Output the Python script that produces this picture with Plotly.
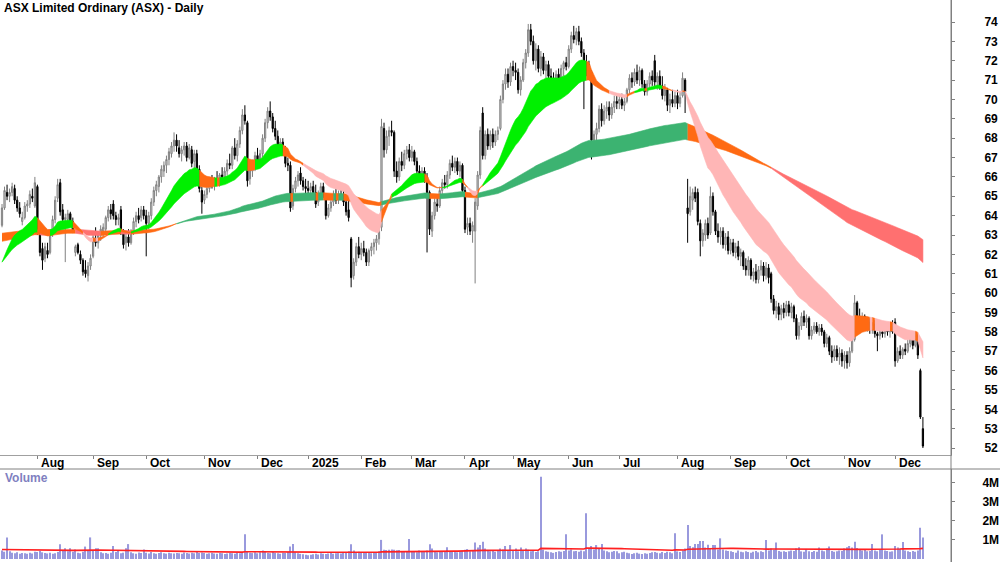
import numpy as np
import pandas as pd
import plotly.graph_objects as go

# ---------------- data ----------------
start_date = "2024-07-12"
asx_holidays = ["2024-12-25", "2024-12-26", "2025-01-01", "2025-01-27",
                "2025-04-18", "2025-04-21", "2025-04-25", "2025-06-09"]

open_ = [
    63.5,64.4,65.2,65.0,65.2,65.4,64.8,64.4,63.7,63.9,64.5,64.6,65.0,64.5,
    65.5,63.0,62.3,61.8,62.2,62.1,63.1,63.8,64.9,65.7,64.3,63.8,63.8,64.1,63.7,62.1,62.5,62.0,61.7,61.2,60.9,61.4,
    61.9,62.8,62.6,63.0,63.2,63.3,63.9,64.3,64.6,64.0,63.8,64.3,63.1,62.6,62.9,62.6,63.2,63.7,64.0,63.9,64.3,
    64.0,63.6,64.0,64.7,65.3,65.5,66.0,66.3,66.6,66.9,67.2,67.6,67.9,67.5,67.2,67.4,67.6,67.0,67.4,66.8,67.2,66.4,65.3,
    64.8,65.1,65.4,65.8,65.6,65.9,65.8,66.1,66.0,66.3,66.7,66.6,67.5,67.1,67.7,68.4,69.2,68.8,65.9,66.3,66.6,
    67.1,66.8,67.2,68.0,68.8,69.4,69.1,68.5,68.1,67.6,67.8,67.3,66.7,66.6,64.5,65.4,65.8,66.2,65.8,65.5,
    65.4,65.3,65.5,65.2,64.7,65.1,65.5,65.0,64.0,64.4,64.7,65.1,64.8,65.1,65.0,64.7,64.3,62.8,60.9,61.6,62.4,
    62.0,62.3,62.1,61.6,62.2,62.4,62.6,62.8,63.4,68.5,67.4,68.1,68.4,68.3,66.3,66.0,66.8,66.6,67.2,67.4,
    67.0,67.3,66.8,66.3,66.1,66.3,66.0,65.2,63.2,64.0,64.6,64.5,65.3,65.7,65.6,66.1,66.7,66.5,66.8,66.3,66.6,
    65.3,63.4,63.6,63.2,63.2,64.5,66.1,69.3,67.1,68.2,67.6,68.2,67.8,68.2,68.5,70.0,70.8,71.3,70.9,
    71.7,71.5,71.4,70.5,71.0,71.9,72.4,73.6,73.0,72.0,72.6,71.6,72.2,71.5,71.8,71.2,71.1,70.9,71.3,71.0,71.6,71.9,
    71.7,72.6,73.3,73.1,73.5,73.0,72.4,71.9,71.8,71.4,67.9,68.2,68.5,69.5,68.9,69.4,69.6,69.2,69.6,69.9,
    69.8,70.0,69.7,69.9,70.5,71.1,70.9,71.4,71.0,71.5,70.8,70.4,70.8,71.2,72.0,70.9,71.2,70.7,70.2,70.5,69.7,70.0,69.8,
    70.2,69.8,70.2,71.0,64.4,64.2,64.8,65.2,65.2,63.6,62.7,63.0,63.6,63.1,65.0,64.2,63.2,62.9,63.2,62.5,62.9,
    62.2,62.6,62.1,62.4,61.9,62.1,61.4,61.2,61.7,60.9,61.1,60.7,61.2,61.4,60.9,61.3,61.0,59.7,59.1,59.3,58.9,59.2,
    59.0,59.4,59.0,59.3,58.7,57.8,58.3,58.8,58.5,58.7,57.8,58.1,58.3,58.0,58.2,58.0,57.4,57.7,57.0,56.7,57.1,56.7,56.9,
    56.5,56.8,56.4,57.0,57.6,59.5,58.8,58.6,58.8,58.3,58.5,58.1,58.4,57.9,57.8,58.0,57.9,58.1,58.0,58.2,
    58.5,56.5,57.0,56.8,57.1,57.0,57.4,57.7,57.3,57.8,56.0,53.0,
]
high = [
    64.6,65.5,65.6,65.4,65.7,65.6,65.0,64.7,64.2,64.7,64.8,65.3,65.4,66.0,
    65.6,63.1,62.6,62.6,62.6,63.3,64.0,65.0,65.9,65.9,64.6,64.1,64.3,64.2,63.9,62.5,62.6,62.2,61.8,61.7,61.6,62.0,
    63.0,63.4,63.2,63.5,63.6,64.0,64.5,64.6,64.8,64.2,64.1,64.5,63.3,63.2,63.3,63.3,63.9,64.2,64.4,64.5,64.5,
    64.3,64.2,64.9,65.5,65.8,66.1,66.6,66.8,67.1,67.5,67.8,68.3,68.2,67.9,67.6,67.8,67.8,67.7,67.6,67.4,67.4,66.6,65.5,
    65.3,65.6,66.0,66.1,66.0,66.3,66.2,66.5,66.5,66.9,67.2,67.6,68.0,67.9,68.6,69.5,69.7,68.9,66.6,66.9,67.3,
    67.5,67.4,68.2,69.0,69.6,69.9,69.3,68.9,68.4,68.0,68.0,67.6,67.0,66.8,65.6,66.0,66.3,66.5,66.0,65.9,
    65.8,65.7,65.8,65.6,65.3,65.7,65.7,65.1,64.6,64.9,65.3,65.4,65.3,65.5,65.3,64.9,64.8,62.9,61.8,62.6,62.9,
    62.6,62.7,62.3,62.3,62.6,62.8,63.0,63.4,69.0,68.8,68.4,68.6,68.9,68.4,66.8,67.0,67.3,67.4,67.6,67.7,
    67.6,67.4,67.0,66.6,66.5,66.5,66.2,65.3,64.2,64.9,65.0,65.5,65.9,66.1,66.3,66.9,67.1,67.0,67.0,66.8,66.7,
    65.5,63.9,63.9,63.7,64.9,66.3,68.6,69.6,68.4,68.5,68.4,68.5,68.4,68.6,70.2,71.0,71.6,71.6,71.9,
    72.0,71.9,71.6,71.2,72.1,72.6,73.9,73.9,73.3,72.9,72.8,72.5,72.4,72.0,72.0,71.6,71.4,71.5,71.6,71.8,72.0,72.2,
    72.8,73.5,73.8,73.7,73.8,73.2,72.6,72.3,72.0,71.5,68.4,68.8,69.7,69.8,69.7,69.9,69.9,69.8,70.2,70.2,
    70.2,70.3,70.1,70.6,71.3,71.4,71.6,71.8,71.7,71.6,71.0,71.0,71.4,71.5,72.3,71.4,71.5,71.2,70.8,70.6,70.3,70.5,70.4,
    70.5,70.4,71.4,71.1,65.9,65.5,65.4,65.5,65.4,63.8,63.3,63.8,63.9,65.5,65.2,64.3,63.6,63.4,63.4,63.1,63.2,
    62.8,62.8,62.6,62.7,62.3,62.2,61.8,61.9,61.8,61.3,61.5,61.4,61.7,61.6,61.6,61.5,61.1,59.9,59.6,59.5,59.4,59.5,
    59.6,59.6,59.5,59.4,58.9,58.5,59.0,59.1,58.9,58.8,58.3,58.5,58.5,58.4,58.4,58.1,57.9,57.8,57.3,57.3,57.3,57.2,57.1,
    57.0,57.0,57.2,57.8,59.9,59.6,59.2,59.0,58.9,58.7,58.7,58.5,58.6,58.0,58.1,58.2,58.2,58.3,58.3,58.6,
    58.7,57.2,57.3,57.2,57.4,57.6,57.9,57.9,58.0,57.9,56.1,53.6,
]
low = [
    63.4,64.3,64.8,64.7,65.0,64.6,64.2,63.9,63.5,63.8,64.2,64.4,64.7,64.4,
    63.0,61.9,61.2,61.6,61.8,62.0,62.9,63.6,64.7,64.0,63.6,61.6,63.5,63.5,63.1,61.9,62.0,61.5,60.9,60.8,60.6,61.2,
    61.8,62.4,62.3,62.7,62.9,63.1,63.7,63.8,63.8,63.5,63.5,63.0,62.3,62.2,62.4,62.5,63.0,63.4,63.6,63.7,63.8,
    61.9,63.3,63.8,64.5,65.0,65.2,65.7,66.0,66.2,66.6,67.0,67.3,67.3,67.0,66.8,67.1,66.8,66.9,66.5,66.2,66.1,65.2,64.1,
    64.6,64.9,65.2,65.4,65.3,65.6,65.5,65.8,65.7,66.1,66.4,66.4,66.9,66.8,67.5,68.2,68.7,65.5,65.6,66.0,66.3,
    66.6,66.5,67.0,67.8,68.5,68.9,68.3,67.9,67.4,67.2,67.1,66.5,66.3,64.2,64.3,65.2,65.5,65.6,65.3,65.1,
    65.0,64.9,65.0,64.4,64.5,64.9,64.9,63.8,63.9,64.2,64.5,64.6,64.6,64.8,64.5,64.0,63.7,60.3,60.7,61.4,61.8,
    61.7,61.9,61.4,61.4,61.9,62.0,62.2,62.5,63.2,67.0,67.2,67.6,68.1,66.0,65.7,65.8,66.3,66.4,66.9,66.8,
    66.8,66.6,66.1,65.8,65.8,65.7,62.1,63.0,62.9,63.8,64.2,64.4,65.0,65.4,65.4,65.9,66.3,66.2,66.1,66.0,65.1,
    63.1,63.0,63.0,62.6,60.5,64.3,65.9,66.9,66.9,67.4,67.4,67.5,67.6,67.9,68.4,69.8,70.5,70.6,70.7,
    71.2,71.0,70.3,70.2,70.9,71.6,72.2,72.8,71.8,71.5,71.4,71.2,71.3,71.1,71.0,70.8,70.6,70.7,70.8,70.9,71.2,71.5,
    71.6,72.4,72.9,72.8,72.8,72.2,69.5,71.2,71.0,66.9,67.2,67.9,68.3,68.6,68.7,69.0,68.9,69.0,69.3,69.5,
    69.5,69.5,69.4,69.8,70.3,70.6,70.7,70.8,70.7,70.6,70.2,70.2,70.6,70.7,70.7,70.5,70.5,70.0,69.9,69.4,69.3,69.6,69.6,
    69.5,69.6,70.1,69.3,62.6,64.0,64.3,64.7,63.5,61.9,62.4,62.7,62.8,63.0,64.0,63.0,62.6,62.5,62.3,62.2,62.0,
    62.0,61.9,61.8,61.7,61.4,61.2,60.9,60.9,60.7,60.6,60.5,60.5,60.9,60.6,60.7,60.5,59.5,58.9,58.7,58.6,58.6,58.7,
    58.8,58.8,58.7,58.5,57.6,57.6,58.1,58.3,58.2,57.6,57.6,57.9,57.9,57.8,57.8,57.2,57.2,56.8,56.4,56.5,56.5,56.3,56.2,
    56.1,56.1,56.2,56.9,57.5,58.5,58.3,58.2,58.1,58.0,57.9,57.9,57.7,57.0,57.6,57.7,57.7,57.8,57.7,57.9,
    56.2,56.4,56.6,56.6,56.8,56.9,57.2,57.1,57.2,56.6,53.5,52.0,
]
close = [
    64.4,65.3,65.0,65.2,65.5,64.8,64.4,64.1,63.9,64.5,64.6,65.1,64.9,65.7,
    63.2,62.1,61.7,62.4,62.0,63.2,63.8,64.8,65.6,64.2,63.8,63.9,64.1,63.7,63.2,62.4,62.1,61.7,61.1,61.0,61.4,61.8,
    62.9,62.6,63.0,63.3,63.4,63.9,64.3,64.1,64.0,63.8,63.9,63.1,62.5,62.9,62.6,63.2,63.7,64.0,63.8,64.3,64.0,
    63.6,64.0,64.7,65.3,65.6,66.0,66.4,66.6,66.9,67.3,67.6,67.9,67.6,67.2,67.4,67.6,67.0,67.5,66.7,67.2,66.3,65.4,64.7,
    65.1,65.4,65.8,65.6,65.9,65.8,66.1,66.0,66.3,66.7,66.6,67.5,67.1,67.7,68.4,69.2,68.9,65.8,66.4,66.6,67.1,
    66.8,67.2,68.0,68.8,69.4,69.1,68.5,68.1,67.6,67.8,67.3,66.7,66.6,64.4,65.4,65.8,66.1,65.8,65.5,65.4,
    65.3,65.5,65.2,64.6,65.1,65.5,65.0,64.0,64.4,64.7,65.1,64.8,65.1,65.0,64.7,64.2,63.9,60.8,61.6,62.4,62.0,
    62.3,62.1,61.6,62.2,62.4,62.6,62.8,63.2,68.6,67.4,68.1,68.4,68.3,66.3,66.0,66.8,66.6,67.2,67.4,67.0,
    67.3,66.8,66.3,66.1,66.3,65.9,65.2,63.3,64.0,64.7,64.5,65.3,65.7,65.6,66.1,66.7,66.5,66.8,66.3,66.6,65.3,
    63.3,63.6,63.2,63.5,64.7,66.1,68.4,67.1,68.2,67.6,68.2,67.8,68.2,68.4,70.0,70.8,71.3,70.9,71.7,
    71.5,71.4,70.5,71.0,71.9,72.4,73.6,73.0,72.0,72.6,71.6,72.2,71.5,71.8,71.2,71.1,70.9,71.3,71.0,71.6,71.9,71.7,
    72.6,73.3,73.1,73.5,73.0,72.4,71.9,71.5,71.4,67.9,68.2,68.5,69.5,68.9,69.4,69.6,69.2,69.6,69.9,69.8,
    70.0,69.7,69.9,70.5,71.1,70.9,71.4,71.0,71.5,70.8,70.4,70.8,71.2,71.0,70.9,71.2,70.7,70.2,70.5,69.7,70.0,69.8,70.2,
    69.8,70.1,71.1,70.4,64.1,65.0,65.2,64.9,63.7,62.7,63.1,63.6,63.0,65.0,64.2,63.2,62.9,63.2,62.5,62.9,62.2,
    62.6,62.1,62.4,61.9,62.1,61.4,61.2,61.7,60.9,61.1,60.7,61.2,61.4,60.9,61.3,60.8,59.7,59.1,59.3,58.9,59.2,59.0,
    59.4,59.0,59.3,58.7,57.8,58.3,58.8,58.5,58.7,57.8,58.1,58.3,58.0,58.2,58.0,57.4,57.7,57.0,56.7,57.1,56.7,56.9,56.5,
    56.8,56.4,57.0,57.6,59.5,58.8,58.6,58.8,58.3,58.5,58.1,58.4,57.9,57.8,58.0,57.9,58.1,58.0,58.2,58.0,
    56.5,57.0,56.8,57.1,57.0,57.4,57.7,57.3,57.8,56.8,53.6,52.1,
]
volume_m = [
    0.45,0.38,1.13,0.40,0.33,0.30,0.35,0.28,0.32,0.30,0.27,0.33,0.29,0.38,
    0.36,0.42,0.35,0.31,0.29,0.33,0.28,0.30,0.36,0.77,0.44,0.56,0.40,0.56,0.38,0.50,0.33,0.30,0.38,0.65,0.45,1.13,
    0.42,0.56,0.56,0.35,0.30,0.32,0.28,0.33,0.68,0.36,0.47,0.30,0.33,0.56,0.78,0.35,0.30,0.28,0.34,0.31,0.50,
    0.33,0.29,0.36,0.30,0.27,0.31,0.35,0.30,0.28,0.33,0.30,0.29,0.32,0.30,0.27,0.34,0.31,0.29,0.33,0.30,0.36,0.32,0.34,
    0.31,0.28,0.30,0.33,0.29,0.27,0.31,0.30,0.26,0.29,0.32,0.30,0.28,0.33,0.30,0.36,1.29,0.40,0.33,0.31,0.35,
    0.30,0.35,0.44,0.40,0.32,0.30,0.36,0.33,0.30,0.28,0.33,0.31,0.36,0.65,0.78,0.35,0.30,0.27,0.25,0.22,
    0.20,0.22,0.25,0.28,0.24,0.30,0.27,0.26,0.29,0.33,0.28,0.30,0.31,0.29,0.32,0.35,0.40,0.77,0.45,0.35,0.38,
    0.33,0.36,0.31,0.35,0.30,0.33,0.36,0.40,1.00,0.48,0.47,0.49,0.50,0.48,0.46,0.47,0.40,0.38,0.42,1.05,
    0.40,0.38,0.35,0.45,0.36,0.40,0.44,0.77,0.55,0.38,0.35,0.40,0.36,0.38,0.61,0.40,0.36,0.38,0.35,0.40,0.43,
    0.48,0.52,0.40,0.45,0.86,0.60,0.73,0.90,0.55,0.45,0.40,0.42,0.38,0.45,0.55,0.50,0.68,0.45,0.73,
    0.42,0.55,0.40,0.60,0.45,0.55,0.48,0.40,0.42,0.36,0.40,4.30,0.48,0.40,0.38,0.35,0.32,0.36,0.40,0.38,0.42,1.30,
    0.45,0.50,0.40,0.42,0.38,0.45,0.40,2.40,0.55,0.68,0.50,0.73,0.55,0.78,0.45,0.40,0.35,0.38,0.42,0.40,
    0.30,0.35,0.38,0.33,0.30,0.26,0.30,0.33,0.28,0.26,0.30,0.28,0.32,0.35,0.36,0.33,0.30,0.36,0.32,0.38,0.35,0.30,1.35,
    0.40,0.36,0.45,0.55,1.78,0.68,0.62,0.78,0.78,0.94,0.94,0.60,0.75,0.55,0.73,0.73,0.50,1.08,0.50,0.45,0.42,
    0.40,0.36,0.33,0.45,0.38,0.35,0.40,0.36,0.33,0.38,0.42,0.35,0.40,0.36,1.00,0.45,0.55,0.48,0.86,0.42,0.38,0.40,
    0.36,0.40,0.45,0.42,0.55,0.62,0.40,0.38,0.52,0.40,0.36,0.42,0.38,0.60,0.45,0.40,0.55,0.65,0.42,0.38,0.40,0.45,0.42,
    0.55,0.62,0.68,0.60,0.90,0.58,0.50,0.45,0.48,0.40,0.42,0.78,0.45,0.40,0.50,1.29,0.45,0.42,0.38,0.40,
    0.68,0.60,0.55,0.89,0.45,0.40,0.36,0.42,0.38,0.45,1.64,1.12,
]

# moving-average ribbons: periods and the ribbon values read at the left edge
short_periods = [20, 23, 26, 30, 34, 40]
short_seed = [61.30, 61.34, 61.38, 61.41, 61.43, 61.45]
long_periods = [150, 160, 170, 180, 200, 220]
long_seed = [62.65, 62.72, 62.80, 62.88, 62.98, 63.08]
vol_ma_span = 80
vol_ma_seed = 0.50

price_ticks = list(range(52, 75))
volume_ticks = [1, 2, 3, 4]

# ---------------- derived ----------------
n = len(close)
idx = np.arange(n)
days = pd.bdate_range(start_date, periods=n + 20)
days = days[~days.isin(pd.to_datetime(asx_holidays))][:n]

month_idx, month_lbl = [], []
for i in range(1, n):
    if days[i].month != days[i - 1].month:
        month_idx.append(i)
        month_lbl.append(str(days[i].year) if days[i].month == 1 else days[i].strftime("%b"))


def ema_series(values, period, seed):
    a = 2.0 / (period + 1)
    v = seed
    out = []
    for c in values:
        v = v + a * (c - v)
        out.append(v)
    return np.array(out)


def ema_group(periods, seeds):
    return np.vstack([ema_series(close, p, s) for p, s in zip(periods, seeds)])


def band_traces(vals, seeds, colors):
    upper = vals.max(axis=0)
    lower = vals.min(axis=0)
    fast, slow = vals[0], vals[-1]
    m = vals.mean(axis=0)
    prev = np.concatenate([[np.mean(seeds)], m[:-1]])
    state = np.where((fast > slow) & (m >= prev), 0,
                     np.where((fast < slow) & (m <= prev), 2, 1))
    traces = []
    s = 0
    for i in range(1, n + 1):
        if i == n or state[i] != state[s]:
            e = i if i < n else n - 1
            s0 = s if e > s else max(s - 1, 0)
            xs = list(idx[s0:e + 1])
            xs = xs + xs[::-1]
            ys = list(upper[s0:e + 1]) + list(lower[s0:e + 1][::-1])
            col = colors[state[s]]
            traces.append(go.Scatter(x=xs, y=ys, fill="toself", fillcolor=col,
                                     mode="lines", line=dict(color=col, width=0.6),
                                     hoverinfo="skip", showlegend=False,
                                     xaxis="x", yaxis="y"))
            s = i
    return traces


short_vals = ema_group(short_periods, short_seed)
long_vals = ema_group(long_periods, long_seed)
vol_ma = ema_series(volume_m, vol_ma_span, vol_ma_seed)

fig = go.Figure()
for t in band_traces(long_vals, long_seed, ["#3cb371", "#ff6a13", "#ff7070"]):
    fig.add_trace(t)
for t in band_traces(short_vals, short_seed, ["#00f000", "#ff6a13", "#ffb6b6"]):
    fig.add_trace(t)

fig.add_trace(go.Candlestick(
    x=idx, open=open_, high=high, low=low, close=close,
    increasing=dict(line=dict(color="#808080", width=1), fillcolor="#dcdcdc"),
    decreasing=dict(line=dict(color="#000000", width=1), fillcolor="#000000"),
    whiskerwidth=0, showlegend=False, hoverinfo="skip", xaxis="x", yaxis="y"))

fig.add_trace(go.Bar(x=idx, y=volume_m, width=0.45, marker=dict(color="#9999dd", line=dict(width=0)),
                     showlegend=False, hoverinfo="skip", xaxis="x2", yaxis="y2"))
fig.add_trace(go.Scatter(x=idx, y=vol_ma, mode="lines", line=dict(color="#ff2020", width=1.6),
                         showlegend=False, hoverinfo="skip", xaxis="x2", yaxis="y2"))

W, H = 1000, 562
plot_right = 951
xr = [-0.79, 375.1]
font_fam = "Liberation Sans, Arial, sans-serif"

fig.update_layout(
    width=W, height=H, margin=dict(l=0, r=W - plot_right, t=0, b=0),
    paper_bgcolor="white", plot_bgcolor="white", showlegend=False,
    font=dict(family=font_fam, color="black"),
    xaxis=dict(domain=[0, 1], range=xr, anchor="y", showgrid=False, zeroline=False,
               showticklabels=False, ticks="outside", ticklen=3, tickcolor="#808080",
               tickvals=month_idx, showline=True, linecolor="#a0a0a0", linewidth=1,
               rangeslider=dict(visible=False), fixedrange=True),
    yaxis=dict(domain=[(H - 455) / H, 1], range=[51.64, 75.136], side="right", anchor="x",
               showgrid=False, zeroline=False, showline=True, linecolor="#808080",
               ticks="outside", ticklen=3, tickcolor="#808080",
               tickvals=price_ticks, ticktext=["<b>%d</b>" % v for v in price_ticks],
               tickfont=dict(size=12, family=font_fam, color="black"), ticklabelstandoff=27),
    xaxis2=dict(domain=[0, 1], range=xr, anchor="y2", showgrid=False, zeroline=False,
                showticklabels=False, showline=False),
    yaxis2=dict(domain=[0, (H - 469) / H], range=[-0.157, 4.71], side="right", anchor="x2",
                showgrid=False, zeroline=False, showline=True, linecolor="#808080",
                ticks="outside", ticklen=3, tickcolor="#808080",
                tickvals=volume_ticks, ticktext=["<b>%dM</b>" % v for v in volume_ticks],
                tickfont=dict(size=12, family=font_fam, color="black"), ticklabelstandoff=25),
)

# panel separators
fig.add_shape(type="line", xref="paper", yref="paper", x0=0, x1=W / plot_right,
              y0=(H - 469) / H, y1=(H - 469) / H, line=dict(color="#808080", width=1))
fig.add_shape(type="line", xref="paper", yref="paper", x0=1, x1=1,
              y0=0, y1=1, line=dict(color="#808080", width=1))

annotations = [
    dict(text="<b>ASX Limited Ordinary (ASX) - Daily</b>", xref="paper", yref="paper",
         x=2 / plot_right, y=1 - 8 / H, xanchor="left", yanchor="middle", showarrow=False,
         font=dict(size=12, family=font_fam, color="black")),
    dict(text="<b>Volume</b>", xref="paper", yref="paper",
         x=3 / plot_right, y=(H - 478) / H, xanchor="left", yanchor="middle", showarrow=False,
         font=dict(size=12, family=font_fam, color="#8080c0")),
]
for mi, ml in zip(month_idx, month_lbl):
    annotations.append(dict(text="<b>%s</b>" % ml, xref="x", yref="paper", x=mi + 0.6,
                            y=(H - 462.5) / H, xanchor="left", yanchor="middle", showarrow=False,
                            font=dict(size=12, family=font_fam, color="black")))
fig.update_layout(annotations=annotations)

fig.write_html("out.html")
